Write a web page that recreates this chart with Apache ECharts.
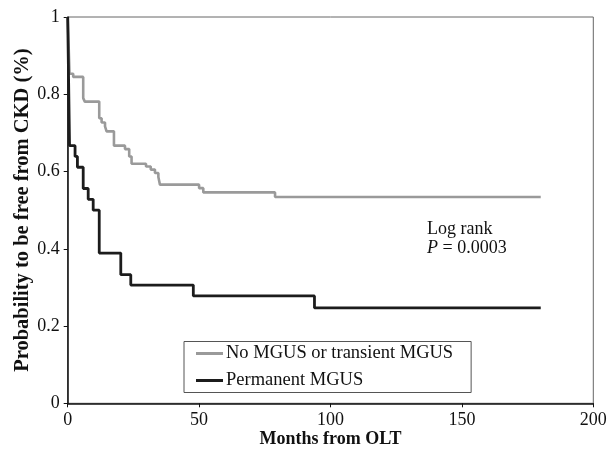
<!DOCTYPE html>
<html>
<head>
<meta charset="utf-8">
<script src="https://cdn.jsdelivr.net/npm/echarts@6/dist/echarts.min.js"></script>
<style>
html,body{margin:0;padding:0;background:#fff;}
#chart{width:610px;height:451px;}
</style>
</head>
<body>
<div id="chart"></div>
<script>
// Data (Kaplan-Meier step curves)
const noMgusTimes = [0, 0.7, 2.1, 5.9, 6.5, 12.0, 12.9, 14.2, 14.8, 17.6, 21.8, 23.4, 24.3, 29.8, 31.6, 33.2, 34.5, 35.1, 50.0, 51.6, 78.9, 180];
const noMgusSurv  = [1, 0.853, 0.845, 0.790, 0.781, 0.738, 0.727, 0.717, 0.704, 0.667, 0.658, 0.639, 0.620, 0.613, 0.605, 0.596, 0.586, 0.566, 0.557, 0.546, 0.534, 0.534];
const permTimes = [0, 0.7, 2.8, 3.7, 5.9, 7.8, 9.7, 12.0, 20.2, 24.0, 47.8, 93.9, 180];
const permSurv  = [1, 0.667, 0.639, 0.611, 0.556, 0.528, 0.500, 0.389, 0.333, 0.306, 0.278, 0.247, 0.247];
const seriesNames = ['No MGUS or transient MGUS', 'Permanent MGUS'];
const xTicks = [0, 50, 100, 150, 200];
const yTicks = [0, 0.2, 0.4, 0.6, 0.8, 1];

const FONT = '"Liberation Serif", "Times New Roman", serif';
const zip = (a, b) => a.map((v, i) => [v, b[i]]);

const chart = echarts.init(document.getElementById('chart'), null, {renderer: 'canvas'});
chart.setOption({
  animation: false,
  backgroundColor: '#fff',
  textStyle: {fontFamily: FONT},
  grid: {left: 67.7, top: 17, right: 16.7, bottom: 47.7, containLabel: false, outerBoundsMode: 'none',
    show: true, borderColor: '#666', borderWidth: 1, backgroundColor: 'transparent'},
  xAxis: {
    type: 'value', min: xTicks[0], max: xTicks[xTicks.length - 1], interval: 50,
    name: 'Months from OLT', nameLocation: 'middle', nameGap: 27, nameMoveOverlap: false,
    nameTextStyle: {fontFamily: FONT, fontSize: 18, fontWeight: 'bold', color: '#111'},
    axisLine: {lineStyle: {color: '#111', width: 1.5}},
    axisTick: {show: true, length: 4, inside: false, lineStyle: {color: '#111'}},
    axisLabel: {fontFamily: FONT, fontSize: 18, color: '#111', margin: 8},
    splitLine: {show: false}
  },
  yAxis: {
    type: 'value', min: yTicks[0], max: yTicks[yTicks.length - 1], interval: 0.2,
    name: 'Probability to be free from CKD (%)', nameLocation: 'middle', nameGap: 34, nameMoveOverlap: false,
    nameTextStyle: {fontFamily: FONT, fontSize: 20.5, fontWeight: 'bold', color: '#111'},
    axisLine: {show: true, lineStyle: {color: '#111', width: 1.5}},
    axisTick: {show: true, length: 4, inside: false, lineStyle: {color: '#111'}},
    axisLabel: {fontFamily: FONT, fontSize: 18, color: '#111', margin: 8,
      formatter: v => (v === 0 ? '0' : v === 1 ? '1' : v.toFixed(1))},
    splitLine: {show: false}
  },
  legend: {
    orient: 'vertical', left: 184, top: 341.5,
    data: seriesNames,
    icon: 'rect', itemWidth: 27, itemHeight: 3, itemGap: 8,
    padding: [2.5, 18, 2.5, 12],
    borderColor: '#555', borderWidth: 1, backgroundColor: '#fff',
    textStyle: {fontFamily: FONT, fontSize: 18.5, color: '#111', lineHeight: 18, padding: [0, 0, 0, -2]}
  },
  series: [
    {
      name: seriesNames[0], type: 'line', step: 'end', symbol: 'none',
      data: zip(noMgusTimes, noMgusSurv),
      lineStyle: {color: '#9a9a9a', width: 2.6}, itemStyle: {color: '#9a9a9a'}, z: 2
    },
    {
      name: seriesNames[1], type: 'line', step: 'end', symbol: 'none',
      data: zip(permTimes, permSurv),
      lineStyle: {color: '#1c1c1c', width: 2.8}, itemStyle: {color: '#1c1c1c'}, z: 3
    }
  ],
  graphic: [
    {type: 'text', left: 427, top: 220, z: 10,
      style: {text: 'Log rank', font: '18px ' + FONT, fill: '#111'}},
    {type: 'text', left: 427, top: 239, z: 10,
      style: {text: '{i|P} = 0.0003', font: '18px ' + FONT, fill: '#111',
        rich: {i: {fontStyle: 'italic', fontFamily: FONT, fontSize: 18, fill: '#111'}}}}
  ]
});
</script>
</body>
</html>
